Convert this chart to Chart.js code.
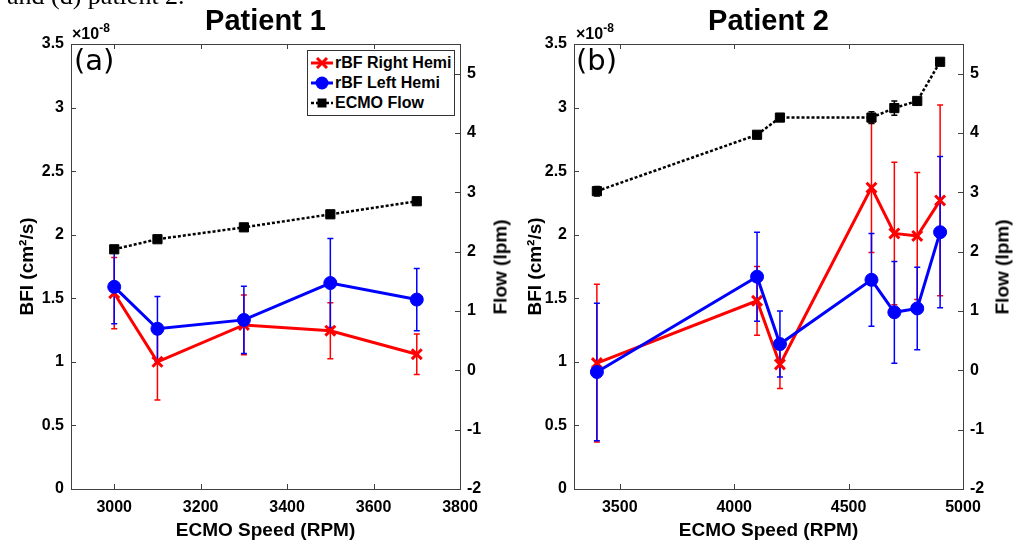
<!DOCTYPE html>
<html>
<head>
<meta charset="utf-8">
<title>ECMO speed vs cerebral blood flow</title>
<script src="https://cdn.jsdelivr.net/npm/chart.js@4.4.1/dist/chart.umd.min.js"></script>
<style>
  body {
    margin: 0;
    width: 1016px;
    height: 544px;
    overflow: hidden;
    position: relative;
    background: #fff;
    font-family: 'Liberation Sans', Arial, sans-serif;
  }
  canvas { position: absolute; top: 0; }
  #chart1 { left: 0; }
  #chart2 { left: 508px; }
  .caption {
    position: absolute;
    font: 26px/26px 'Liberation Serif', 'Times New Roman', serif;
    white-space: nowrap;
  }
  .expo {
    position: absolute;
    font: bold 16px/16px 'Liberation Sans', Arial, sans-serif;
    white-space: nowrap;
  }
  .expo span { position: relative; top: -7px; font-size: 12px; }
  .tag {
    position: absolute;
    font: 29px/29px 'DejaVu Sans', sans-serif;
  }
  .ytitle {
    position: absolute;
    font: bold 19px/19px 'Liberation Sans', Arial, sans-serif;
    white-space: nowrap;
    transform: translate(-50%, -50%) rotate(-90deg);
  }
  .legend {
    position: absolute;
    background: #fff;
    border: 1px solid #333;
    padding: 2px 3px 2px 2px;
    font: bold 16px/20px 'Liberation Sans', Arial, sans-serif;
  }
  .legend div { display: flex; align-items: center; white-space: nowrap; }
  .legend svg { margin-right: 1px; }
</style>
</head>
<body>
<canvas id="chart1" width="508" height="544"></canvas>
<canvas id="chart2" width="508" height="544"></canvas>

<div class="caption" style="left:7px; top:-17px;">and (d) patient 2.</div>
<div class="expo" style="left:72px; top:26px;">×10<span>-8</span></div>
<div class="expo" style="left:576px; top:26px;">×10<span>-8</span></div>
<div class="tag" style="left:74px; top:46px;">(a)</div>
<div class="tag" style="left:576px; top:46px;">(b)</div>
<div class="ytitle" style="left:500px; top:267px;">Flow (lpm)</div>
<div class="ytitle" style="left:1002px; top:267px;">Flow (lpm)</div>
<div class="legend" id="legend" style="left:307px; top:50px;"></div>

<script>
// Patient 1 (BFI values in units of 1e-8 cm^2/s, flow in lpm)
const p1Speed = [3000, 3100, 3300, 3500, 3700];
const p1Right = [1.54, 1.00, 1.29, 1.245, 1.06];
const p1RightErr = [0.28, 0.30, 0.235, 0.22, 0.16];
const p1Left = [1.59, 1.26, 1.33, 1.62, 1.49];
const p1LeftErr = [0.29, 0.255, 0.265, 0.35, 0.245];
const p1Flow = [2.04, 2.21, 2.41, 2.63, 2.85];
const p1FlowErr = [0.02, 0.02, 0.02, 0.02, 0.02];

// Patient 2
const p2Speed = [3400, 4100, 4200, 4600, 4700, 4800, 4900];
const p2Right = [0.99, 1.48, 0.98, 2.37, 2.01, 1.99, 2.27];
const p2RightErr = [0.62, 0.27, 0.19, 0.51, 0.56, 0.50, 0.75];
const p2Left = [0.92, 1.67, 1.14, 1.645, 1.39, 1.42, 2.02];
const p2LeftErr = [0.54, 0.35, 0.26, 0.365, 0.40, 0.325, 0.595];
const p2Flow = [3.02, 3.97, 4.26, 4.26, 4.42, 4.54, 5.2];
const p2FlowErr = [0.08, 0.04, 0.03, 0.10, 0.12, 0.05, 0.04];

// tick labels
const p1XTicks = [3000, 3200, 3400, 3600, 3800];
const p2XTicks = [3500, 4000, 4500, 5000];
const bfiTicks = [0, 0.5, 1, 1.5, 2, 2.5, 3, 3.5];
const flowTicks = [-2, -1, 0, 1, 2, 3, 4, 5];

const seriesNames = ['rBF Right Hemi', 'rBF Left Hemi', 'ECMO Flow'];
const seriesColors = ['#ff0000', '#0000ff', '#000000'];

const axisColor = '#404040';
const fontFamily = "'Liberation Sans', Arial, sans-serif";

Chart.defaults.font.family = fontFamily;
Chart.defaults.color = '#000';

// error bars drawn under the markers
const errorBars = {
    id: 'errorBars',
    beforeDatasetsDraw(chart) {
        const ctx = chart.ctx;
        const xs = chart.scales.x;
        chart.data.datasets.forEach(ds => {
            if (!ds.err) return;
            const ys = chart.scales[ds.yAxisID];
            ctx.save();
            ctx.strokeStyle = ds.borderColor;
            ctx.lineWidth = 1.5;
            ctx.beginPath();
            ds.data.forEach((p, j) => {
                const px = xs.getPixelForValue(p.x);
                const top = ys.getPixelForValue(p.y + ds.err[j]);
                const bot = ys.getPixelForValue(p.y - ds.err[j]);
                ctx.moveTo(px, top); ctx.lineTo(px, bot);
                ctx.moveTo(px - 3, top); ctx.lineTo(px + 3, top);
                ctx.moveTo(px - 3, bot); ctx.lineTo(px + 3, bot);
            });
            ctx.stroke();
            ctx.restore();
        });
    }
};

// matlab style box: top edge plus inward ticks
const boxTicks = {
    id: 'boxTicks',
    afterDraw(chart) {
        const {ctx, chartArea: a, scales} = chart;
        const len = 5;
        ctx.save();
        ctx.strokeStyle = axisColor;
        ctx.lineWidth = 1;
        ctx.beginPath();
        ctx.moveTo(a.left, a.top + 0.5);
        ctx.lineTo(a.right, a.top + 0.5);
        scales.x.ticks.forEach(t => {
            const px = Math.round(scales.x.getPixelForValue(t.value)) + 0.5;
            ctx.moveTo(px, a.bottom); ctx.lineTo(px, a.bottom - len);
            ctx.moveTo(px, a.top); ctx.lineTo(px, a.top + len);
        });
        scales.y.ticks.forEach(t => {
            const py = Math.round(scales.y.getPixelForValue(t.value)) + 0.5;
            ctx.moveTo(a.left, py); ctx.lineTo(a.left + len, py);
        });
        scales.y1.ticks.forEach(t => {
            const py = Math.round(scales.y1.getPixelForValue(t.value)) + 0.5;
            ctx.moveTo(a.right, py); ctx.lineTo(a.right - len, py);
        });
        ctx.stroke();
        ctx.restore();
    }
};

function points(xs, ys) {
    return xs.map((x, i) => ({x: x, y: ys[i]}));
}

function fixTicks(values) {
    return scale => { scale.ticks = values.map(v => ({value: v})); };
}

function makePanel(id, title, speed, right, rightErr, left, leftErr, flow, flowErr, xMin, xMax, xTicks, leftWidth, rightWidth) {
    const tickFont = {size: 16, weight: 'bold'};
    const titleFont = {size: 19, weight: 'bold'};
    return new Chart(document.getElementById(id), {
        type: 'line',
        data: {
            datasets: [{
                label: seriesNames[0],
                data: points(speed, right),
                err: rightErr,
                yAxisID: 'y',
                borderColor: seriesColors[0],
                backgroundColor: seriesColors[0],
                borderWidth: 3,
                pointStyle: 'crossRot',
                pointRadius: 7,
                pointBorderWidth: 3,
                order: 2
            }, {
                label: seriesNames[1],
                data: points(speed, left),
                err: leftErr,
                yAxisID: 'y',
                borderColor: seriesColors[1],
                backgroundColor: seriesColors[1],
                borderWidth: 3,
                pointStyle: 'circle',
                pointRadius: 6.5,
                pointBorderWidth: 1,
                order: 1
            }, {
                label: seriesNames[2],
                data: points(speed, flow),
                err: flowErr,
                yAxisID: 'y1',
                borderColor: seriesColors[2],
                backgroundColor: seriesColors[2],
                borderWidth: 2.5,
                borderDash: [3, 2],
                pointStyle: 'rect',
                pointRadius: 6.5,
                pointBorderWidth: 1,
                order: 3
            }]
        },
        options: {
            responsive: false,
            animation: false,
            events: [],
            layout: {padding: 0},
            plugins: {
                legend: {display: false},
                tooltip: {enabled: false},
                title: {
                    display: true,
                    text: title,
                    fullSize: false,
                    color: '#000',
                    font: {size: 29, weight: 'bold'},
                    padding: {top: 5, bottom: 4.2}
                }
            },
            scales: {
                x: {
                    type: 'linear',
                    min: xMin,
                    max: xMax,
                    afterBuildTicks: fixTicks(xTicks),
                    grid: {display: true, drawOnChartArea: false, drawTicks: false},
                    border: {color: axisColor, width: 1},
                    ticks: {autoSkip: false, padding: 9, font: tickFont, color: '#000', maxRotation: 0,
                        callback: v => String(v)},
                    title: {display: true, text: 'ECMO Speed (RPM)', font: titleFont, color: '#000', padding: {top: 0, bottom: 2}},
                    afterFit: s => { s.height = 55; }
                },
                y: {
                    position: 'left',
                    min: 0,
                    max: 3.5,
                    afterBuildTicks: fixTicks(bfiTicks),
                    grid: {display: true, drawOnChartArea: false, drawTicks: false},
                    border: {color: axisColor, width: 1},
                    ticks: {autoSkip: false, padding: 7, font: tickFont, color: '#000', callback: v => String(v)},
                    title: {display: true, text: 'BFI (cm²/s)', font: titleFont, color: '#000', padding: {top: 16, bottom: 0}},
                    afterFit: s => { s.width = leftWidth; }
                },
                y1: {
                    position: 'right',
                    min: -2,
                    max: 5.5,
                    afterBuildTicks: fixTicks(flowTicks),
                    grid: {display: true, drawOnChartArea: false, drawTicks: false},
                    border: {color: axisColor, width: 1},
                    ticks: {autoSkip: false, padding: 7, font: tickFont, color: '#000', callback: v => String(v)},
                    afterFit: s => { s.width = rightWidth; }
                }
            }
        },
        plugins: [errorBars, boxTicks]
    });
}

makePanel('chart1', 'Patient 1', p1Speed, p1Right, p1RightErr, p1Left, p1LeftErr, p1Flow, p1FlowErr, 2900, 3800, p1XTicks, 71, 48);
makePanel('chart2', 'Patient 2', p2Speed, p2Right, p2RightErr, p2Left, p2LeftErr, p2Flow, p2FlowErr, 3300, 5000, p2XTicks, 66, 53);

// legend box of panel 1
const legendGlyphs = [
    '<line x1="1" y1="10" x2="23" y2="10" stroke="#ff0000" stroke-width="3"/>' +
    '<path d="M7 5 L17 15 M17 5 L7 15" stroke="#ff0000" stroke-width="3"/>',
    '<line x1="1" y1="10" x2="23" y2="10" stroke="#0000ff" stroke-width="3"/>' +
    '<circle cx="12" cy="10" r="6.5" fill="#0000ff"/>',
    '<line x1="1" y1="10" x2="23" y2="10" stroke="#000" stroke-width="2.5" stroke-dasharray="3 2"/>' +
    '<rect x="7.5" y="5.5" width="9" height="9" fill="#000"/>'
];
document.getElementById('legend').innerHTML = seriesNames.map((name, i) =>
    '<div><svg width="24" height="20">' + legendGlyphs[i] + '</svg>' + name + '</div>'
).join('');
</script>
</body>
</html>
